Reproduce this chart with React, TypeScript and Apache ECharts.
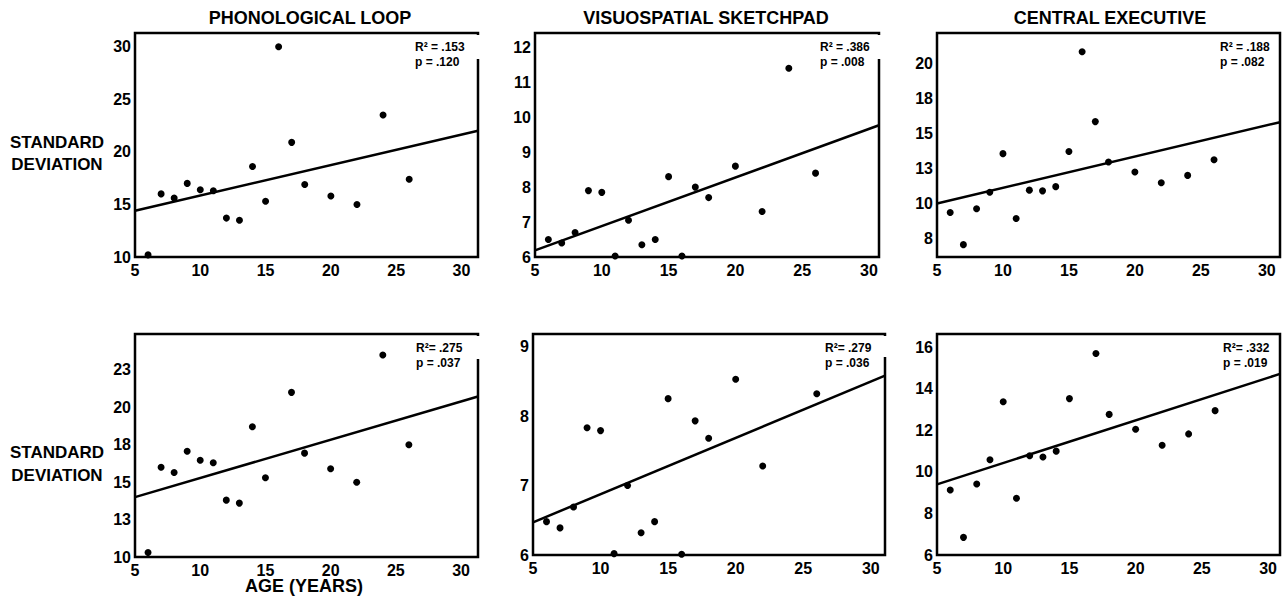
import React, { useEffect, useRef } from "react";
import * as echarts from "echarts";

// ---- data ----
const agesAll = [6, 7, 8, 9, 10, 11, 12, 13, 14, 15, 16, 17, 18, 20, 22, 24, 26];
const phonoAll = [10.2, 16.0, 15.6, 17.0, 16.4, 16.3, 13.7, 13.5, 18.6, 15.3, 30.0, 20.9, 16.9, 15.8, 15.0, 23.5, 17.4];
const visuoAll = [6.5, 6.4, 6.7, 7.9, 7.85, 6.03, 7.05, 6.35, 6.5, 8.3, 6.03, 8.0, 7.7, 8.6, 7.3, 11.4, 8.4];
const centralAll = [9.36, 7.07, 9.62, 10.8, 13.55, 8.93, 10.95, 10.9, 11.2, 13.7, 20.8, 15.83, 12.95, 12.24, 11.48, 12.0, 13.12];

const agesPhonoTrim = [6, 7, 8, 9, 10, 11, 12, 13, 14, 15, 17, 18, 20, 22, 24, 26];
const phonoTrim = [10.3, 16.0, 15.65, 17.07, 16.47, 16.3, 13.8, 13.6, 18.7, 15.3, 21.0, 16.94, 15.9, 15.0, 23.5, 17.5];
const agesVisuoTrim = [6, 7, 8, 9, 10, 11, 12, 13, 14, 15, 16, 17, 18, 20, 22, 26];
const visuoTrim = [6.48, 6.39, 6.69, 7.83, 7.79, 6.02, 7.0, 6.32, 6.48, 8.25, 6.01, 7.93, 7.68, 8.53, 7.28, 8.32];
const agesCentralTrim = [6, 7, 8, 9, 10, 11, 12, 13, 14, 15, 17, 18, 20, 22, 24, 26];
const centralTrim = [9.13, 6.85, 9.42, 10.59, 13.38, 8.73, 10.78, 10.72, 11.0, 13.53, 15.7, 12.77, 12.05, 11.28, 11.83, 12.95];

// regression lines: value at age 5 and at the right edge of the axis
const fitStart = [14.4, 6.19, 10.0, 14.0, 6.47, 9.4];
const fitEnd = [22.0, 9.77, 15.79, 20.72, 8.58, 14.72];

const xTicks = [5, 10, 15, 20, 25, 30];
const yTicks = [
  [10, 15, 20, 25, 30],
  [6, 7, 8, 9, 10, 11, 12],
  [7.5, 10, 12.5, 15, 17.5, 20],
  [10, 12.5, 15, 17.5, 20, 22.5],
  [6, 7, 8, 9],
  [6, 8, 10, 12, 14, 16],
];
const xMax = [31.27, 30.75, 31.0, 31.3, 31.05, 30.9];
const yMin = [10, 6, 6.19, 10, 6, 6];
const yMax = [31.3, 12.41, 22.14, 24.9, 9.18, 16.64];

const titles = ["PHONOLOGICAL LOOP", "VISUOSPATIAL SKETCHPAD", "CENTRAL EXECUTIVE"];
const r2Labels = ["R² = .153", "R² = .386", "R² = .188", "R²= .275", "R²= .279", "R²= .332"];
const pLabels = ["p = .120", "p = .008", "p = .082", "p = .037", "p = .036", "p = .019"];

// ---- layout ----
const grids = [
  { left: 135, top: 33, width: 343, height: 224 },
  { left: 535, top: 33, width: 344, height: 224 },
  { left: 937, top: 33, width: 343, height: 224 },
  { left: 135, top: 334, width: 343, height: 223 },
  { left: 533, top: 334, width: 352, height: 221 },
  { left: 937, top: 334, width: 343, height: 221 },
];
const gapHeights = [24, 24, 0, 23, 21, 0];
const FONT = '"Liberation Sans", Arial, sans-serif';

export default function App() {
  const ref = useRef<HTMLDivElement>(null);
  useEffect(() => {
    if (!ref.current) return;
    const chart = echarts.init(ref.current, undefined, { renderer: "svg" });
    const xs = [agesAll, agesAll, agesAll, agesPhonoTrim, agesVisuoTrim, agesCentralTrim];
    const ys = [phonoAll, visuoAll, centralAll, phonoTrim, visuoTrim, centralTrim];

    const series: any[] = [];
    for (let i = 0; i < 6; i++) {
      series.push({
        type: "line",
        xAxisIndex: i,
        yAxisIndex: i,
        data: [
          [5, fitStart[i]],
          [xMax[i], fitEnd[i]],
        ],
        showSymbol: false,
        symbol: "none",
        lineStyle: { color: "#000", width: 2.5 },
        z: 2,
      });
      series.push({
        type: "scatter",
        xAxisIndex: i,
        yAxisIndex: i,
        data: xs[i].map((a, k) => [a, ys[i][k]]),
        symbolSize: 7,
        itemStyle: { color: "#000", opacity: 1 },
        z: 3,
      });
    }

    const graphic: any[] = [];
    const titleX = [310, 706, 1110];
    titles.forEach((t, i) =>
      graphic.push({
        type: "text",
        x: titleX[i],
        y: 18,
        style: { text: t, font: `bold 18px ${FONT}`, fill: "#000", textAlign: "center", textVerticalAlign: "middle" },
      })
    );
    [[142, 164], [452, 475]].forEach(([a, b]) => {
      graphic.push({
        type: "text", x: 57, y: a,
        style: { text: "STANDARD", font: `bold 17px ${FONT}`, fill: "#000", textAlign: "center", textVerticalAlign: "middle" },
      });
      graphic.push({
        type: "text", x: 57, y: b,
        style: { text: "DEVIATION", font: `bold 17px ${FONT}`, fill: "#000", textAlign: "center", textVerticalAlign: "middle" },
      });
    });
    graphic.push({
      type: "text", x: 304, y: 586,
      style: { text: "AGE (YEARS)", font: `bold 18px ${FONT}`, fill: "#000", textAlign: "center", textVerticalAlign: "middle" },
    });
    const r2X = [415, 820, 1220, 416, 825, 1223];
    grids.forEach((g, i) => {
      graphic.push({
        type: "text", x: r2X[i], y: g.top + 14,
        style: { text: r2Labels[i], font: `bold 12px ${FONT}`, fill: "#000", textAlign: "left", textVerticalAlign: "middle" },
        z: 20,
      });
      graphic.push({
        type: "text", x: r2X[i], y: g.top + 29,
        style: { text: pLabels[i], font: `bold 12px ${FONT}`, fill: "#000", textAlign: "left", textVerticalAlign: "middle" },
        z: 20,
      });
      if (gapHeights[i] > 0) {
        graphic.push({
          type: "rect",
          shape: { x: g.left + g.width - 3, y: g.top + 2, width: 6, height: gapHeights[i] },
          style: { fill: "#fff" },
          z: 10,
        });
      }
    });

    chart.setOption({
      animation: false,
      backgroundColor: "#fff",
      grid: grids.map((g) => ({
        ...g,
        show: true,
        borderColor: "#000",
        borderWidth: 2.5,
        backgroundColor: "transparent",
      })),
      xAxis: grids.map((_, i) => ({
        type: "value",
        gridIndex: i,
        min: 5,
        max: xMax[i],
        axisLine: { show: false },
        axisTick: { show: false, customValues: xTicks },
        splitLine: { show: false },
        axisLabel: {
          customValues: xTicks,
          color: "#000",
          fontWeight: "bold",
          fontSize: 16,
          fontFamily: FONT,
          margin: 5,
        },
      })),
      yAxis: grids.map((_, i) => ({
        type: "value",
        gridIndex: i,
        min: yMin[i],
        max: yMax[i],
        axisLine: { show: false },
        axisTick: { show: false, customValues: yTicks[i] },
        splitLine: { show: false },
        axisLabel: {
          customValues: yTicks[i],
          formatter: (v: number) => String(Math.round(v)),
          color: "#000",
          fontWeight: "bold",
          fontSize: 16,
          fontFamily: FONT,
          margin: 4,
        },
      })),
      series,
      graphic,
    });
    return () => chart.dispose();
  }, []);
  return (
    <div
      ref={ref}
      style={{ position: "fixed", left: 0, top: 0, width: 1282, height: 606, background: "#fff" }}
    />
  );
}
